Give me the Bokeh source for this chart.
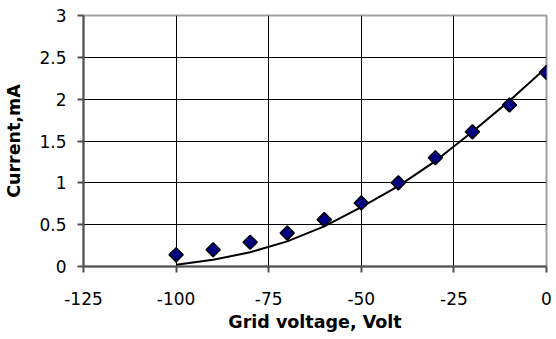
import numpy as np
from bokeh.plotting import figure
from bokeh.models import FixedTicker, Range1d
from bokeh.embed import file_html
from bokeh.resources import INLINE

# measured points
voltage = [-100, -90, -80, -70, -60, -50, -40, -30, -20, -10, 0]
current = [0.14, 0.20, 0.29, 0.40, 0.56, 0.76, 1.00, 1.30, 1.61, 1.93, 2.32]

# trendline
trend_v = [-100, -90, -80, -70, -60, -50, -40, -30, -20, -10, 0]
trend_i = [0.02, 0.08, 0.17, 0.30, 0.48, 0.71, 0.96, 1.26, 1.61, 1.98, 2.38]

x_ticks = [-125, -100, -75, -50, -25, 0]
y_ticks = [0, 0.5, 1, 1.5, 2, 2.5, 3]

FONT = "DejaVu Sans"

p = figure(output_backend="svg", toolbar_location=None,
           x_range=Range1d(-125, 0), y_range=Range1d(0, 3),
           frame_width=463, frame_height=251,
           min_border_left=83, min_border_right=8, min_border_top=15, min_border_bottom=70)

p.background_fill_color = "white"
p.border_fill_color = "white"
p.outline_line_color = "#a0a0a0"
p.outline_line_width = 2

p.xaxis.ticker = FixedTicker(ticks=x_ticks)
p.yaxis.ticker = FixedTicker(ticks=y_ticks)
p.xaxis.major_label_overrides = {t: str(t) for t in x_ticks}
p.yaxis.major_label_overrides = {t: (str(t) if t != int(t) else str(int(t))) for t in y_ticks}

for ax in (p.xaxis[0], p.yaxis[0]):
    ax.major_label_text_font = FONT
    ax.major_label_text_font_size = "17px"
    ax.major_label_text_color = "black"
    ax.axis_label_text_font = FONT
    ax.axis_label_text_font_style = "bold"
    ax.axis_label_text_font_size = "17.5px"
    ax.axis_label_text_color = "black"
    ax.minor_tick_line_color = None
    ax.major_tick_out = 6
    ax.major_tick_in = 0
    ax.major_tick_line_color = "#505050"
    ax.major_tick_line_width = 2
    ax.axis_line_color = "#505050"
    ax.axis_line_width = 2

p.xaxis.axis_label = "Grid voltage, Volt"
p.yaxis.axis_label = "Current,mA"
p.xaxis.major_label_standoff = 19
p.yaxis.major_label_standoff = 11
p.xaxis.axis_label_standoff = 4
p.yaxis.axis_label_standoff = 12

p.xgrid.grid_line_color = "black"
p.xgrid.grid_line_width = 1
p.ygrid.grid_line_color = "black"
p.ygrid.grid_line_width = 1

p.line(trend_v, trend_i, line_color="black", line_width=2)
p.scatter(voltage, current, marker="square", angle=np.pi / 4, size=10,
          fill_color="#000080", line_color="black", line_width=1.5)

open("out.html", "w").write(file_html(p, INLINE))
